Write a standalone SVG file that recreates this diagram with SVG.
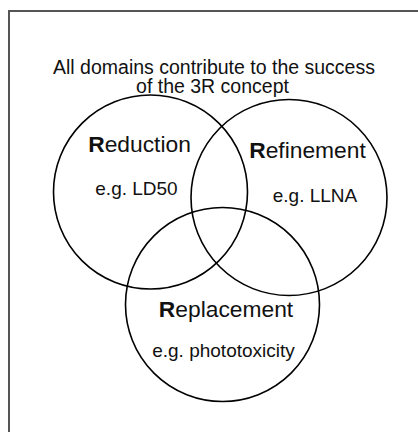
<svg xmlns="http://www.w3.org/2000/svg" width="418" height="432" viewBox="0 0 418 432">
<style>
.c{fill:none;stroke:#000;stroke-width:1.6}
.t{font-family:"Liberation Sans",Arial,sans-serif;fill:#111;text-anchor:middle}
.h{font-size:22.8px}
.e{font-size:19px}
.title{font-size:19.5px}
.b{font-weight:bold}
</style>
<rect width="418" height="432" fill="#fff"/>
<path d="M9,432 V11 H418" fill="none" stroke="#555" stroke-width="2"/>
<g id="title">
<text class="t title"><tspan x="214" y="73.5">All domains contribute to the success</tspan><tspan x="212.5" y="92.5">of the 3R concept</tspan></text>
</g>
<g id="reduction">
<circle class="c" cx="150.5" cy="192" r="97"/>
<text class="t h" x="139.5" y="152"><tspan class="b">R</tspan>eduction</text>
<text class="t e" x="136.5" y="195">e.g. LD50</text>
</g>
<g id="refinement">
<circle class="c" cx="289" cy="197.5" r="98"/>
<text class="t h" x="307.5" y="158"><tspan class="b">R</tspan>efinement</text>
<text class="t e" x="315" y="202">e.g. LLNA</text>
</g>
<g id="replacement">
<circle class="c" cx="222.5" cy="304.5" r="97"/>
<text class="t h" x="226" y="317"><tspan class="b">R</tspan>eplacement</text>
<text class="t e" x="223.5" y="357">e.g. phototoxicity</text>
</g>
<g id="connectors"></g>
</svg>
